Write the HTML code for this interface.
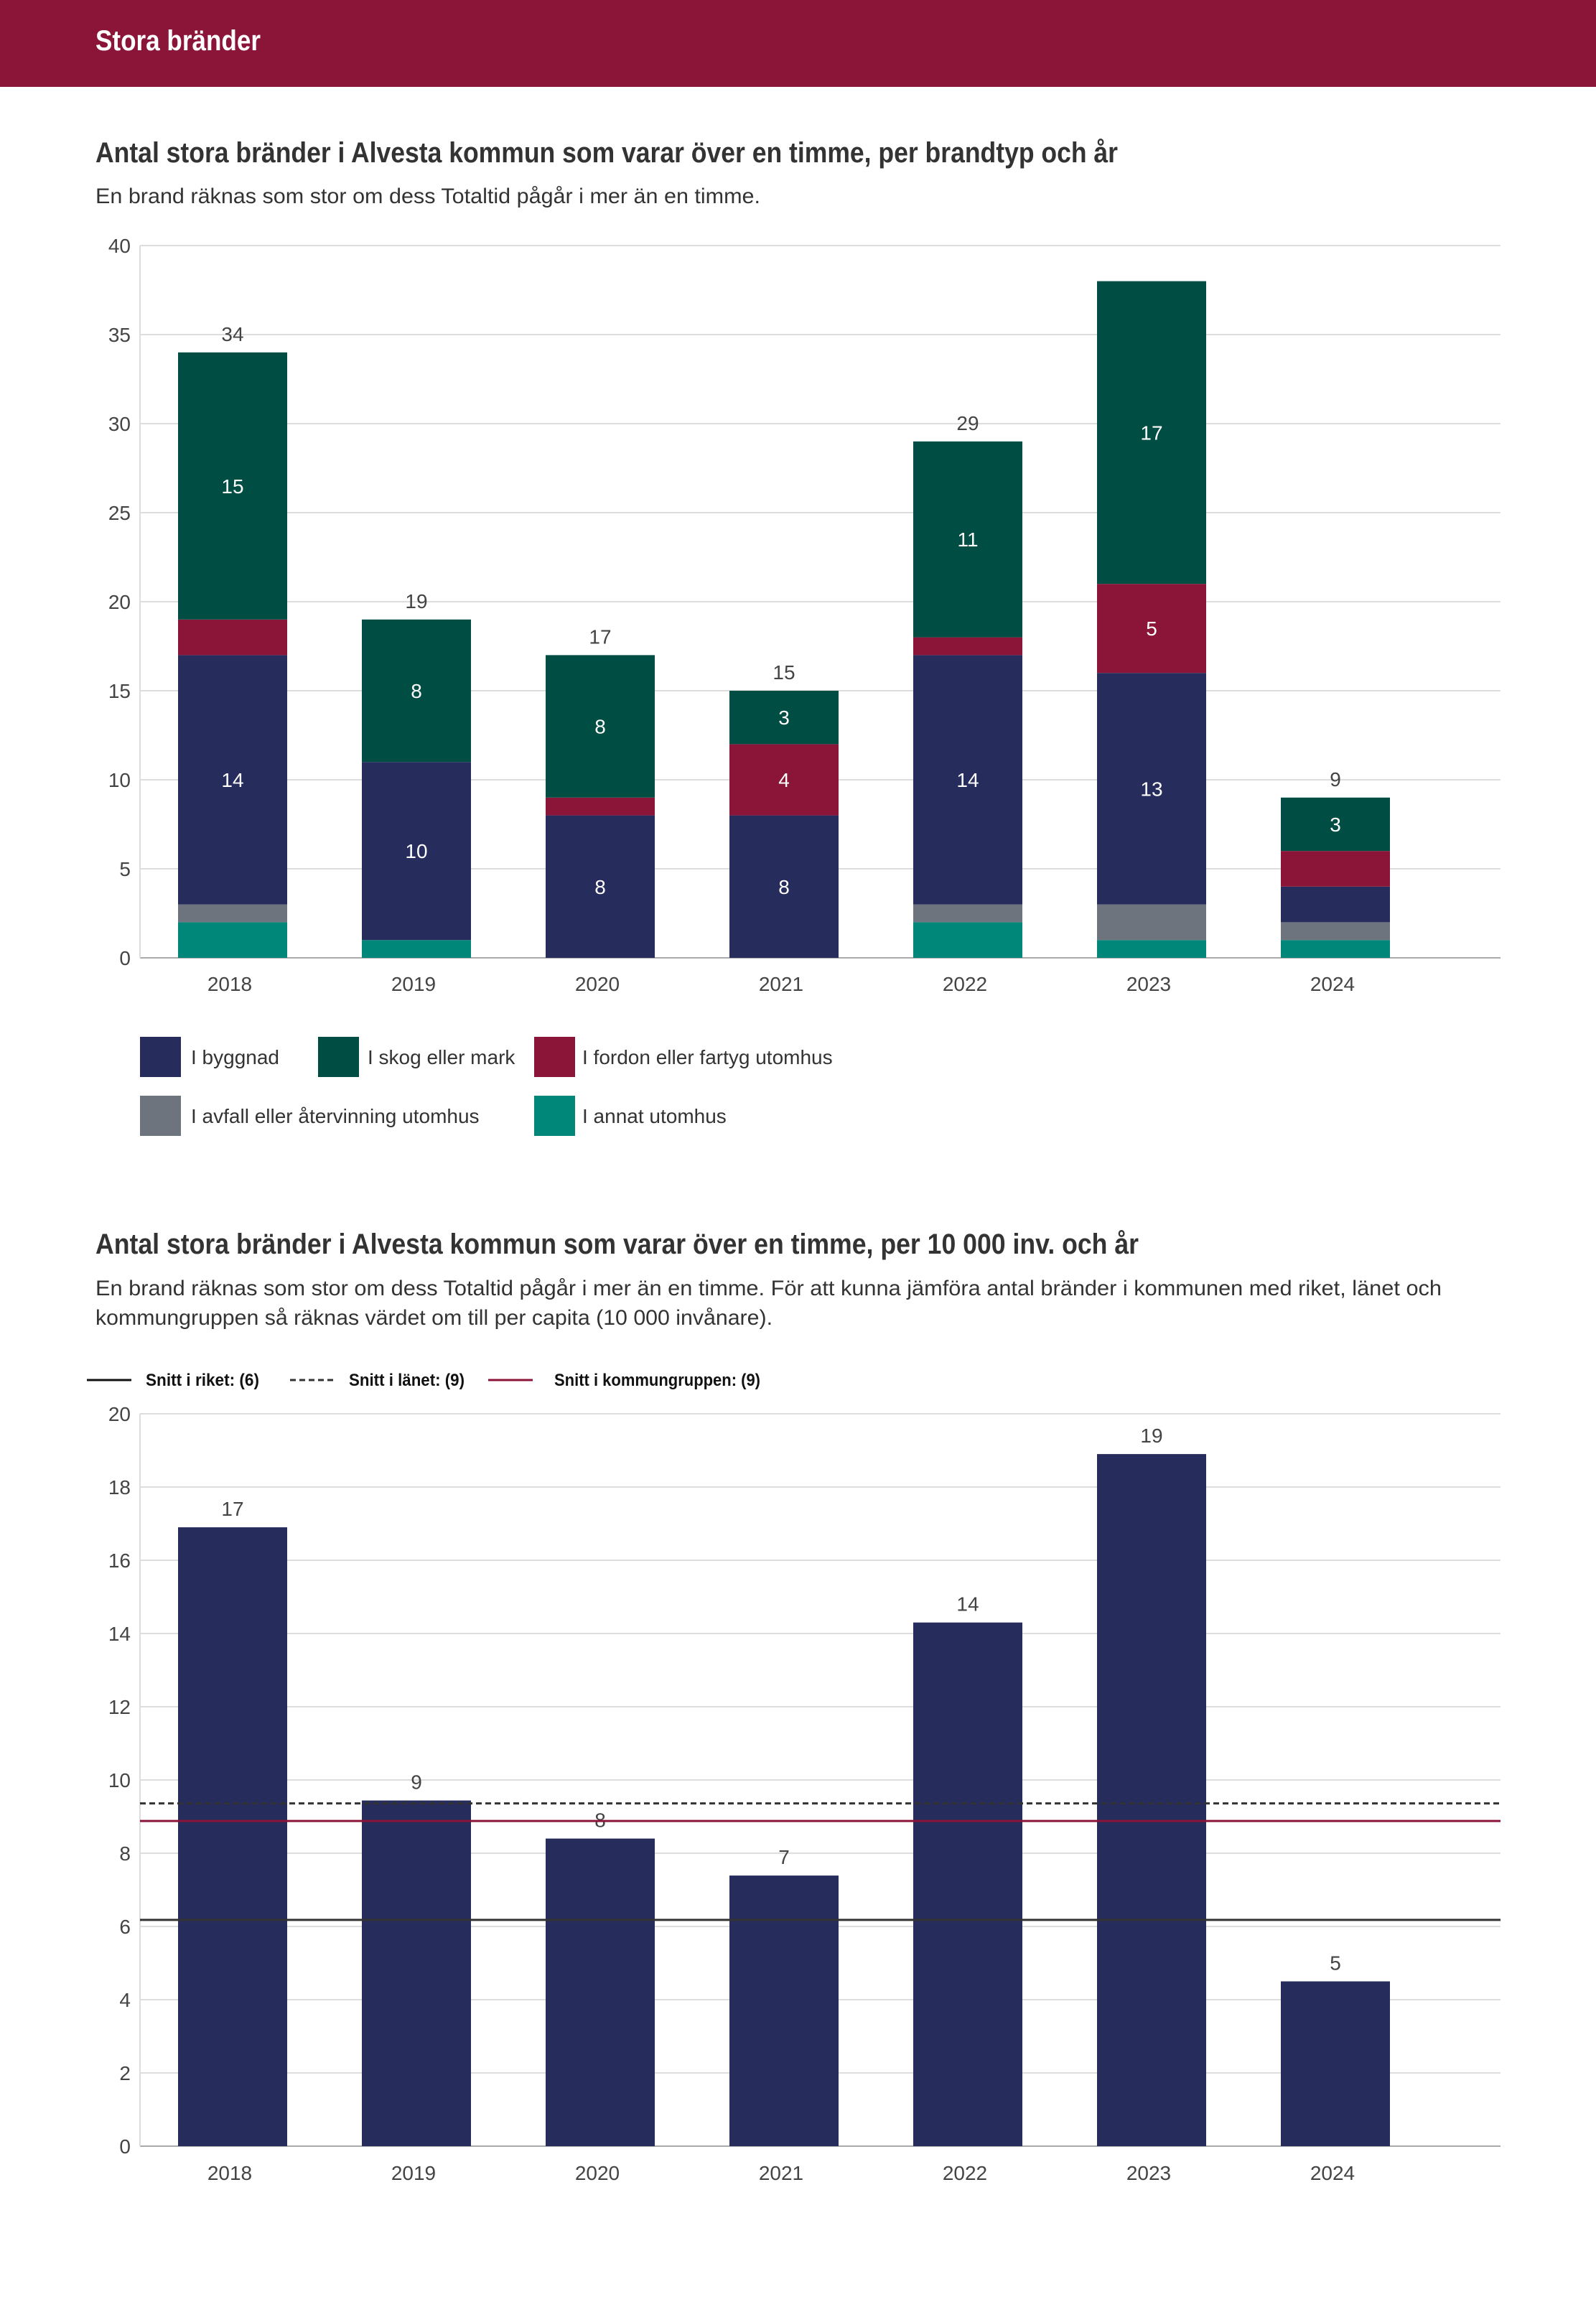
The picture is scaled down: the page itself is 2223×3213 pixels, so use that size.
<!DOCTYPE html>
<html><head><meta charset="utf-8"><style>
html,body{margin:0;padding:0;background:#fff;}
svg{display:block;font-family:"Liberation Sans",sans-serif;}
</style></head><body>
<svg id="page" width="2223" height="3213" viewBox="0 0 2223 3213">
<rect x="0" y="0" width="2223" height="121" fill="#8b1538"/>
<text x="133" y="70" fill="#fff" font-size="40" font-weight="bold" textLength="230" lengthAdjust="spacingAndGlyphs">Stora bränder</text>

<text x="133" y="226" fill="#333" font-size="40" font-weight="bold" textLength="1424" lengthAdjust="spacingAndGlyphs">Antal stora bränder i Alvesta kommun som varar över en timme, per brandtyp och år</text>
<text x="133" y="283" fill="#333" font-size="30" textLength="926" lengthAdjust="spacingAndGlyphs">En brand räknas som stor om dess Totaltid pågår i mer än en timme.</text>
<g id="chart1"></g>
<g id="legend1"></g>

<text x="133" y="1746" fill="#333" font-size="40" font-weight="bold" textLength="1453" lengthAdjust="spacingAndGlyphs">Antal stora bränder i Alvesta kommun som varar över en timme, per 10 000 inv. och år</text>
<text x="133" y="1804" fill="#333" font-size="30" textLength="1875" lengthAdjust="spacingAndGlyphs">En brand räknas som stor om dess Totaltid pågår i mer än en timme. För att kunna jämföra antal bränder i kommunen med riket, länet och</text>
<text x="133" y="1845" fill="#333" font-size="30" textLength="943" lengthAdjust="spacingAndGlyphs">kommungruppen så räknas värdet om till per capita (10 000 invånare).</text>
<g id="legend2"></g>
<g id="chart2"></g>
</svg>
<script>
const years = ["2018","2019","2020","2021","2022","2023","2024"];
const annat = [2,1,0,0,2,1,1];
const avfall = [1,0,0,0,1,2,1];
const byggnad = [14,10,8,8,14,13,2];
const fordon = [2,0,1,4,1,5,2];
const skog = [15,8,8,3,11,17,3];
const ticks1 = [0,5,10,15,20,25,30,35,40];
const showTotal = [true,true,true,true,true,false,true];
const perCapita = [16.9,9.44,8.4,7.39,14.3,18.9,4.5];
const perCapitaLabels = ["17","9","8","7","14","19","5"];
const ticks2 = [0,2,4,6,8,10,12,14,16,18,20];
const avgRiket = 6.18;
const avgLanet = 9.36;
const avgGrupp = 8.88;

const NS="http://www.w3.org/2000/svg";
function mk(parent,tag,attrs,text){const e=document.createElementNS(NS,tag);for(const k in attrs)e.setAttribute(k,attrs[k]);if(text!==undefined)e.textContent=text;parent.appendChild(e);return e;}
const L=195,R=2090,band=256,bw=152;
function xc(i){return 324+band*i;}

// chart 1
const c1=document.getElementById('chart1');
const y1=v=>1334-v*(1334-342)/40;
ticks1.forEach(t=>{
  const g=mk(c1,'line',{x1:L,x2:R,y1:y1(t),y2:y1(t),stroke:t===0?'#aaa':'#ddd','stroke-width':2});
  
  
  const tx=mk(c1,'text',{x:182,y:y1(t)+10,'text-anchor':'end','font-size':28,fill:'#444'},String(t));
  
  
});
mk(c1,'line',{x1:L,x2:L,y1:342,y2:1334,stroke:'#ddd','stroke-width':2});
const series=[[annat,'#00877a','annat'],[avfall,'#6d747e','avfall'],[byggnad,'#262c5c','byggnad'],[fordon,'#8b1538','fordon'],[skog,'#004d44','skog']];
years.forEach((yr,i)=>{
  let acc=0;
  series.forEach(([arr,col,nm])=>{
    const v=arr[i];
    if(v>0){
      const r=mk(c1,'rect',{x:xc(i)-bw/2,y:y1(acc+v),width:bw,height:y1(acc)-y1(acc+v),fill:col});
      
      
      if(v>=3){
        const t=mk(c1,'text',{x:xc(i),y:(y1(acc)+y1(acc+v))/2+10,'text-anchor':'middle','font-size':28,fill:'#fff'},String(v));
        
        
      }
    }
    acc+=v;
  });
  if(showTotal[i]){
    const t=mk(c1,'text',{x:xc(i),y:y1(acc)-16,'text-anchor':'middle','font-size':28,fill:'#444'},String(acc));
    
    
  }
  const xl=mk(c1,'text',{x:xc(i)-4,y:1380,'text-anchor':'middle','font-size':28,fill:'#444'},yr);
  
  
});
// legend 1
const lg=document.getElementById('legend1');
const leg=[[195,1444,266,'#262c5c','I byggnad'],[443,1444,512,'#004d44','I skog eller mark'],[744,1444,811,'#8b1538','I fordon eller fartyg utomhus'],[195,1526,266,'#6d747e','I avfall eller återvinning utomhus'],[744,1526,811,'#00877a','I annat utomhus']];
leg.forEach(([sx,sy,tx,col,lab])=>{
  const s=mk(lg,'rect',{x:sx,y:sy,width:57,height:56,fill:col});
  
  
  const t=mk(lg,'text',{x:tx,y:sy+38,'font-size':28,fill:'#333'},lab);
  
  
});

// legend 2
const lg2=document.getElementById('legend2');
[[121,203,'#111','none','Snitt i riket: (6)',158],[404,486,'#333','8 5','Snitt i länet: (9)',161],[680,772,'#8b1538','none','Snitt i kommungruppen: (9)',287]].forEach(([lx,tx,col,da,lab,w])=>{
  const l=mk(lg2,'line',{x1:lx,x2:lx+62,y1:1922,y2:1922,stroke:col,'stroke-width':3,'stroke-dasharray':da});
  
  
  const t=mk(lg2,'text',{x:tx,y:1930,'font-size':24,'font-weight':'bold',fill:'#111',textLength:w,lengthAdjust:'spacingAndGlyphs'},lab);
  
  
});

// chart 2
const c2=document.getElementById('chart2');
const y2=v=>2989-v*(2989-1969)/20;
ticks2.forEach(t=>{
  const g=mk(c2,'line',{x1:L,x2:R,y1:y2(t),y2:y2(t),stroke:t===0?'#aaa':'#ddd','stroke-width':2});
  
  
  const tx=mk(c2,'text',{x:182,y:y2(t)+10,'text-anchor':'end','font-size':28,fill:'#444'},String(t));
  
  
});
mk(c2,'line',{x1:L,x2:L,y1:1969,y2:2989,stroke:'#ddd','stroke-width':2});
years.forEach((yr,i)=>{
  const v=perCapita[i];
  const r=mk(c2,'rect',{x:xc(i)-bw/2,y:y2(v),width:bw,height:y2(0)-y2(v),fill:'#262c5c'});
  
  
  const t=mk(c2,'text',{x:xc(i),y:y2(v)-16,'text-anchor':'middle','font-size':28,fill:'#444'},perCapitaLabels[i]);
  
  
  const xl=mk(c2,'text',{x:xc(i)-4,y:3036,'text-anchor':'middle','font-size':28,fill:'#444'},yr);
  
  
});
[[avgLanet,'#333','8 5','avg-lanet-line'],[avgGrupp,'#8b1538','none','avg-kommungrupp-line'],[avgRiket,'#333','none','avg-riket-line']].forEach(([v,col,da,nm])=>{
  const l=mk(c2,'line',{x1:L,x2:R,y1:y2(v),y2:y2(v),stroke:col,'stroke-width':3,'stroke-dasharray':da});
  
  
});
</script>
</body></html>
